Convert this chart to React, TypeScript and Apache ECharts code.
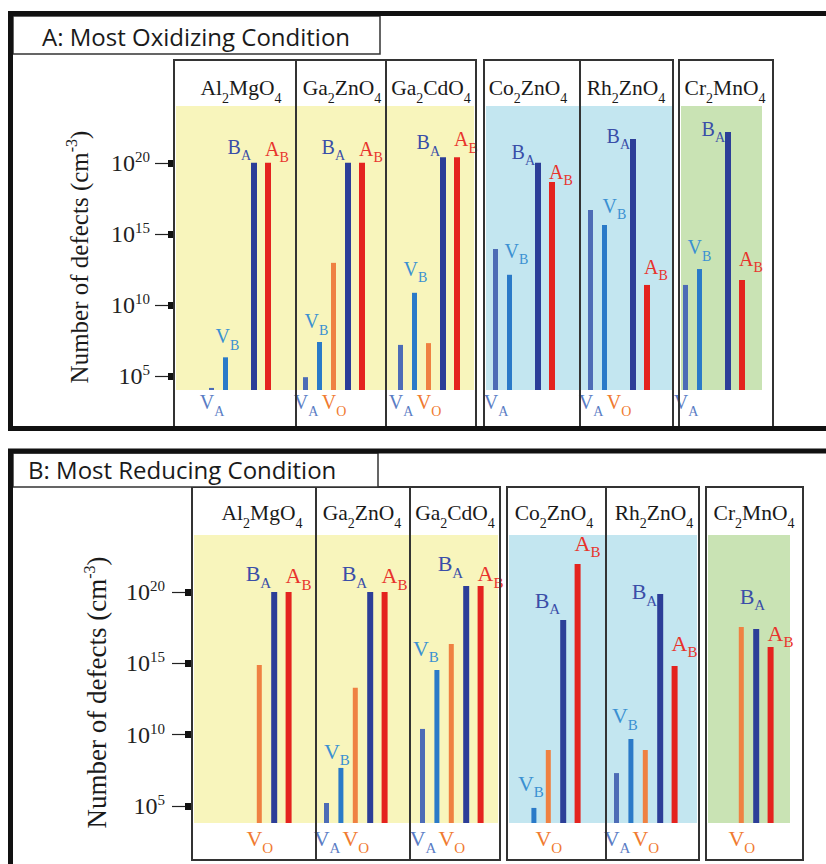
import React, { useEffect, useRef } from 'react';
import * as echarts from 'echarts';

const SERIF = '"Liberation Serif", "Times New Roman", Times, serif';
const SANS = '"Open Sans", "Noto Sans", Arial, sans-serif';

// ---------- data ----------
const compounds = ['Al2MgO4', 'Ga2ZnO4', 'Ga2CdO4', 'Co2ZnO4', 'Rh2ZnO4', 'Cr2MnO4'];
const defectTypes = ['VA', 'VB', 'VO', 'BA', 'AB'];
const yTickValues = [1e5, 1e10, 1e15, 1e20];
const titleA = 'A: Most Oxidizing Condition';
const titleB = 'B: Most Reducing Condition';

// Panel A: most oxidizing condition (defects per cm^3)
const oxVA = [1.4e4, 8e4, 1.5e7, 8.5e13, 4.8e16, 2.5e11];
const oxVB = [2e6, 2.4e7, 7e10, 1.3e12, 4.2e15, 3.3e12];
const oxVO = [null, 9e12, 2e7, null, null, null];
const oxBA = [1e20, 1e20, 2.5e20, 1e20, 4.8e21, 1.5e22];
const oxAB = [1e20, 1e20, 2.5e20, 4.5e18, 2.5e11, 5.6e11];
const oxBottomLabels = [['VA'], ['VA', 'VO'], ['VA', 'VO'], ['VA'], ['VA', 'VO'], ['VA']];

// Panel B: most reducing condition
const redVA = [null, 1.6e5, 2.5e10, null, 2e7, null];
const redVB = [null, 4.6e7, 3.4e14, 7.2e4, 4.9e9, null];
const redVO = [7.6e14, 1.9e13, 2.3e16, 8.3e8, 8.3e8, 3.5e17];
const redBA = [1e20, 1e20, 2.6e20, 1.1e18, 7.2e19, 2.6e17];
const redAB = [1e20, 1e20, 2.6e20, 9.3e21, 6.5e14, 1.4e16];
const redBottomLabels = [['VO'], ['VA', 'VO'], ['VA', 'VO'], ['VO'], ['VA', 'VO'], ['VO']];

// ---------- styles ----------
const barColors: Record<string, string> = {
  VA: '#4d6cb6', VB: '#2a7ac8', VO: '#ef8142', BA: '#2c3e98', AB: '#e4231f',
};
const labelColors: Record<string, string> = {
  VA: '#5a7cc4', VB: '#3a90d2', VO: '#f07a30', BA: '#3a4ea8', AB: '#e8332c',
};
const barWidths: Record<string, number> = { VA: 5, VB: 5, VO: 5, BA: 6, AB: 6 };
const YELLOW = '#f8f5bc';
const BLUE = '#c3e6f0';
const GREEN = '#c9e3b4';

type Layout = {
  frame: [number, number, number, number];
  titleBox: [number, number, number, number];
  titleX: number; titleY: number;
  boxTop: number; boxBottom: number;
  groups: [number, number, number[]][];
  headerY: number; headerX: number[]; headerSize: number;
  plotTop: number; plotBottom: number; yMin: number; yMax: number;
  bgs: [number, number, string][];
  slot: number; vaX: number[];
  axisX: number; tickLen: number; labelMargin: number;
  nameGap: number; nameShift: number; nameSize: number;
  xLabelMargin: number; labelSize: number;
  labelShift: Record<string, [number, number][]>;
};

const layoutA: Layout = {
  frame: [10.5, 13.5, 900, 415],
  titleBox: [13, 16, 380, 54],
  titleX: 42, titleY: 36.5,
  boxTop: 60, boxBottom: 428,
  groups: [[174, 476, [296, 386]], [484, 673, [580]], [679, 773, []]],
  headerY: 87.5, headerX: [241, 342, 431, 528, 626, 725], headerSize: 21.5,
  plotTop: 106, plotBottom: 390, yMin: 1e4, yMax: 1e24,
  bgs: [[176, 474, YELLOW], [486, 672, BLUE], [681, 762, GREEN]],
  slot: 14, vaX: [212, 306, 401, 496, 591, 686],
  axisX: 175, tickLen: 20, labelMargin: 25,
  nameGap: 80, nameShift: 18, nameSize: 25,
  xLabelMargin: -4, labelSize: 20,
  labelShift: {
    VB: [[2, -2], [-3, -2], [1, -5], [7, -5], [10, 0], [0, -3]],
    BA: [[0, 0], [0, 0], [0, 1], [0, 5], [0, 13], [0, 13]],
    AB: [[0, 2], [0, 2], [0, -2], [0, 6], [0, -2], [0, -5]],
  },
};

const layoutB: Layout = {
  frame: [10.5, 451, 900, 500],
  titleBox: [13, 453, 378, 487],
  titleX: 28, titleY: 469,
  boxTop: 487, boxBottom: 860,
  groups: [[192, 500, [316, 410]], [507, 699, [606]], [706, 803, []]],
  headerY: 512.5, headerX: [262, 362, 455, 554, 654, 754], headerSize: 21.5,
  plotTop: 535, plotBottom: 823, yMin: Math.pow(10, 3.8), yMax: 1e24,
  bgs: [[194, 498, YELLOW], [509, 697, BLUE], [708, 790, GREEN]],
  slot: 14.4, vaX: [231, 327, 423, 520, 617, 713],
  axisX: 192, tickLen: 20, labelMargin: 27,
  nameGap: 79, nameShift: 27, nameSize: 27,
  xLabelMargin: -1, labelSize: 22,
  labelShift: {
    VB: [[0, 0], [-4, 3], [-11, -2], [-3, -5], [-6, -4], [0, 0]],
    BA: [[0, -2], [0, -2], [0, -6], [0, -3], [0, 14], [12, -16]],
    AB: [[0, 0], [0, 0], [0, 4], [0, -4], [0, -6], [0, 3]],
  },
};

const panels = [
  { title: titleA, values: { VA: oxVA, VB: oxVB, VO: oxVO, BA: oxBA, AB: oxAB } as Record<string, (number | null)[]>, bottom: oxBottomLabels, L: layoutA },
  { title: titleB, values: { VA: redVA, VB: redVB, VO: redVO, BA: redBA, AB: redAB } as Record<string, (number | null)[]>, bottom: redBottomLabels, L: layoutB },
];

function defectRich(size: number) {
  const r: Record<string, any> = {};
  defectTypes.forEach((d) => {
    r['m' + d] = { color: labelColors[d], fontSize: size, fontFamily: SERIF };
    r['s' + d] = { color: labelColors[d], fontSize: Math.round(size * 0.7), fontFamily: SERIF, padding: [18, 0, 0, 0] };
  });
  return r;
}
const defectText = (d: string) => `{m${d}|${d[0]}}{s${d}|${d[1]}}`;
const formulaText = (name: string) =>
  name.split(/(\d)/).filter(Boolean).map((p) => (/\d/.test(p) ? `{s|${p}}` : `{m|${p}}`)).join('');

function buildOption() {
  const grid: any[] = [];
  const xAxis: any[] = [];
  const yAxis: any[] = [];
  const extraY: any[] = [];
  const series: any[] = [];
  const graphic: any[] = [];

  panels.forEach((p) => {
    const L = p.L;
    L.bgs.forEach(([x0, x1, c]) => {
      graphic.push({ type: 'rect', z: 0, shape: { x: x0, y: L.plotTop, width: x1 - x0, height: L.plotBottom - L.plotTop }, style: { fill: c } });
    });
    L.groups.forEach(([x0, x1, divs]) => {
      graphic.push({ type: 'rect', z: 5, shape: { x: x0, y: L.boxTop, width: x1 - x0, height: L.boxBottom - L.boxTop }, style: { fill: 'none', stroke: '#333', lineWidth: 2 } });
      divs.forEach((dx) => {
        graphic.push({ type: 'line', z: 5, shape: { x1: dx, y1: L.boxTop, x2: dx, y2: L.boxBottom }, style: { stroke: '#333', lineWidth: 2 } });
      });
    });
    compounds.forEach((c, ci) => {
      graphic.push({
        type: 'text', z: 6, x: L.headerX[ci], y: L.headerY,
        style: {
          text: formulaText(c), align: 'center', verticalAlign: 'middle',
          rich: {
            m: { fontSize: L.headerSize, fontFamily: SERIF, fill: '#1a1a1a' },
            s: { fontSize: 14, fontFamily: SERIF, fill: '#1a1a1a', padding: [22, 0, 0, 0] },
          },
        },
      });
    });
    const [fx, fy, fw, fh] = L.frame;
    graphic.push({ type: 'rect', z: 8, shape: { x: fx, y: fy, width: fw, height: fh }, style: { fill: 'none', stroke: '#111', lineWidth: 5 } });
    const [tx0, ty0, tx1, ty1] = L.titleBox;
    graphic.push({ type: 'rect', z: 7, shape: { x: tx0, y: ty0, width: tx1 - tx0, height: ty1 - ty0 }, style: { fill: '#fff', stroke: '#333', lineWidth: 1.5 } });
    graphic.push({ type: 'text', z: 9, x: L.titleX, y: L.titleY, style: { text: p.title, fontFamily: SANS, fontSize: 24, fill: '#1a1a1a', align: 'left', verticalAlign: 'middle' } });

    compounds.forEach((c, ci) => {
      const gi = grid.length;
      const left = L.vaX[ci] - L.slot / 2;
      grid.push({ left, top: L.plotTop, width: L.slot * 5, height: L.plotBottom - L.plotTop, containLabel: false, outerBoundsMode: 'none' });
      const bottomSet = p.bottom[ci];
      xAxis.push({
        type: 'category', gridIndex: gi, data: defectTypes,
        axisLine: { show: false }, axisTick: { show: false }, splitLine: { show: false },
        axisLabel: {
          interval: 0, margin: L.xLabelMargin, hideOverlap: false,
          formatter: (val: string) => (bottomSet.includes(val) ? defectText(val) : ''),
          rich: defectRich(L.labelSize),
        },
      });
      const yBase: any = { type: 'log', logBase: 10, min: L.yMin, max: L.yMax, gridIndex: gi, splitLine: { show: false }, axisLine: { show: false } };
      if (ci === 0) {
        yAxis.push({
          ...yBase, position: 'left', offset: left - L.axisX,
          axisTick: { show: true, customValues: yTickValues, length: L.tickLen, lineStyle: { color: '#222', width: 1.2 } },
          axisLabel: {
            show: true, customValues: yTickValues, margin: L.labelMargin, color: '#222',
            formatter: (v: number) => `{b|10}{s|${Math.round(Math.log10(v))}}`,
            rich: {
              b: { fontSize: 24, fontFamily: SERIF, color: '#222' },
              s: { fontSize: 15, fontFamily: SERIF, color: '#222', padding: [0, 0, 12, 0] },
            },
          },
          name: '{n|Number of defects (cm}{sup|-3}{n|)}',
          nameLocation: 'middle', nameRotate: 90, nameGap: L.nameGap, nameMoveOverlap: false,
          nameTextStyle: {
            padding: [0, L.nameShift, 0, 0],
            rich: {
              n: { fontSize: L.nameSize, fontFamily: SERIF, color: '#1a1a1a' },
              sup: { fontSize: 16, fontFamily: SERIF, color: '#1a1a1a', padding: [0, 0, 16, 0] },
            },
          },
        });
        extraY.push({
          ...yBase, position: 'left', offset: left - L.axisX,
          axisTick: { show: true, customValues: yTickValues, length: 7, lineStyle: { color: '#111', width: 7 } },
          axisLabel: { show: false },
        });
      } else {
        yAxis.push({ ...yBase, show: false });
      }
      defectTypes.forEach((d, k) => {
        const v = p.values[d][ci];
        if (v == null) return;
        let label: any = { show: false };
        if (d === 'VB' || d === 'BA' || d === 'AB') {
          const [sx, sy] = L.labelShift[d][ci];
          label = { show: true, position: 'top', formatter: defectText(d), rich: defectRich(L.labelSize) };
          if (d === 'BA') label = { ...label, align: 'right', distance: 0, offset: [-3 + sx, sy] };
          else if (d === 'AB') label = { ...label, align: 'left', distance: 0, offset: [-3 + sx, sy] };
          else label = { ...label, align: 'center', distance: 3, offset: [sx, sy] };
        }
        series.push({
          type: 'bar', name: `${c} ${d}`, xAxisIndex: gi, yAxisIndex: gi,
          barWidth: barWidths[d], barGap: '-100%', clip: true, silent: true,
          itemStyle: { color: barColors[d] },
          label,
          data: defectTypes.map((_, j) => (j === k ? v : null)),
        });
      });
    });
  });

  return {
    animation: false,
    backgroundColor: '#fff',
    grid,
    xAxis,
    yAxis: [...yAxis, ...extraY],
    series,
    graphic: { elements: graphic },
  };
}

export default function App() {
  const ref = useRef<HTMLDivElement>(null);
  useEffect(() => {
    if (!ref.current) return;
    const chart = echarts.init(ref.current, undefined, { renderer: 'svg' });
    chart.setOption(buildOption() as any);
    return () => chart.dispose();
  }, []);
  return (
    <div
      ref={ref}
      style={{ position: 'absolute', left: 0, top: 0, width: 826, height: 864, background: '#fff' }}
    />
  );
}
